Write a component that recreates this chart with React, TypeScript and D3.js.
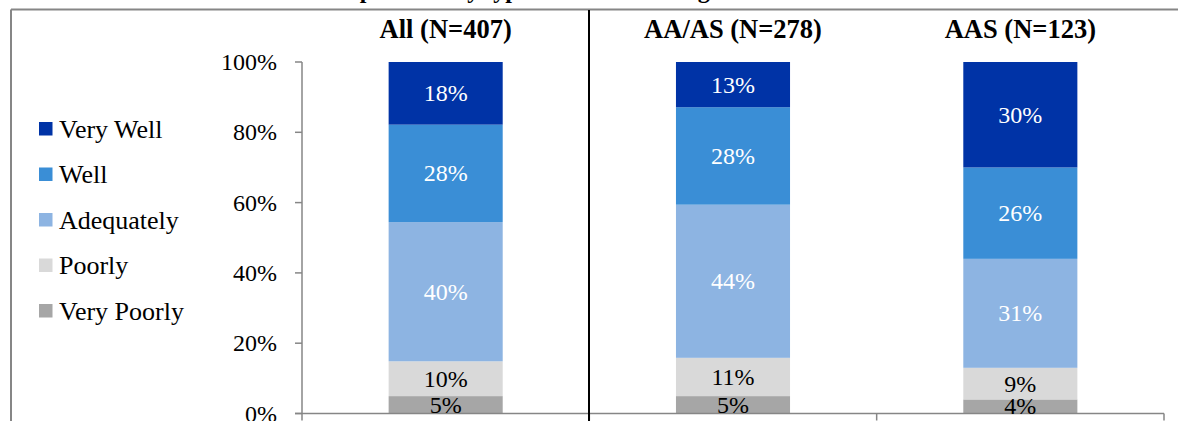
import React from 'react';
import * as d3 from 'd3';

// Respondent groups (column headers)
const categories = ['All (N=407)', 'AA/AS (N=278)', 'AAS (N=123)'];

// Rating levels, bottom of the stack first
const levels = ['Very Poorly', 'Poorly', 'Adequately', 'Well', 'Very Well'];

// Percent of respondents per level, one value per group
const veryPoorly = [5, 5, 4];
const poorly = [10, 11, 9];
const adequately = [40, 44, 31];
const well = [28, 28, 26];
const veryWell = [18, 13, 30];

const yTicks = [0, 0.2, 0.4, 0.6, 0.8, 1];

const levelColors = ['#A6A6A6', '#D9D9D9', '#8DB4E2', '#3A8ED6', '#0033A6'];
const labelColors = ['#000', '#000', '#fff', '#fff', '#fff'];

const W = 1178;
const H = 421;
const FONT = "'Liberation Serif', 'Times New Roman', serif";

export default function App() {
  const series = [veryPoorly, poorly, adequately, well, veryWell];
  const rows = categories.map((c, i) => {
    const r: Record<string, any> = { category: c };
    levels.forEach((l, k) => (r[l] = series[k][i]));
    return r;
  });

  // 100% stacked layout
  const stacked = d3
    .stack<any>()
    .keys(levels)
    .offset(d3.stackOffsetExpand)(rows);

  const plotL = 302;
  const plotR = 1164;
  const x = d3
    .scaleBand<string>()
    .domain(categories)
    .range([plotL, plotR])
    .paddingInner(0.603)
    .paddingOuter(0.3015);
  const xBounds = d3.scaleBand<string>().domain(categories).range([plotL, plotR]).padding(0);
  const y = d3.scaleLinear().domain([0, 1]).range([413.5, 62]);
  const pct = d3.format('.0%');

  const axisColor = '#868686';
  const y0 = y(0);

  const boundaryXs = [...categories.map((c) => xBounds(c)!), plotR];

  const legendItems = levels.slice().reverse();

  const txt = { fontFamily: FONT, fontWeight: 400 } as React.CSSProperties;
  const bold = { fontFamily: FONT, fontWeight: 700 } as React.CSSProperties;

  return (
    <div style={{ position: 'fixed', left: 0, top: 0, width: W, height: H, background: '#fff' }}>
      <svg width={W} height={H} style={{ display: 'block' }}>
        <rect x={0} y={0} width={W} height={H} fill="#fff" />

        {/* title, mostly above the frame */}
        <text x={818} y={-2} textAnchor="end" fontSize={24} style={bold} fill="#000">
          Preparation by type of associate's degree earned
        </text>

        {/* chart frame */}
        <line x1={11} y1={9.5} x2={W} y2={9.5} stroke={axisColor} strokeWidth={2} />
        <line x1={11} y1={9.5} x2={11} y2={H} stroke={axisColor} strokeWidth={2} />

        {/* y axis */}
        <line x1={plotL} y1={y(1)} x2={plotL} y2={y0} stroke={axisColor} strokeWidth={1.5} />
        {yTicks.map((t) => (
          <g key={t}>
            <line x1={plotL - 7} x2={plotL} y1={y(t)} y2={y(t)} stroke={axisColor} strokeWidth={1.5} />
            <text x={277} y={y(t)} textAnchor="end" dominantBaseline="central" fontSize={24} style={txt} fill="#000">
              {pct(t)}
            </text>
          </g>
        ))}

        {/* bars */}
        {stacked.map((s, k) =>
          s.map((d, i) => {
            const cat = categories[i];
            const bx = x(cat)!;
            const top = y(d[1]);
            const bot = y(d[0]);
            return (
              <rect
                key={`${k}-${i}`}
                x={bx}
                y={top}
                width={x.bandwidth()}
                height={bot - top}
                fill={levelColors[k]}
              />
            );
          })
        )}

        {/* x axis */}
        <line x1={plotL - 7} y1={y0} x2={plotR} y2={y0} stroke={axisColor} strokeWidth={1.5} />
        {boundaryXs.map((bx, i) => (
          <line key={i} x1={bx} x2={bx} y1={y0} y2={y0 + 7} stroke={axisColor} strokeWidth={1.5} />
        ))}

        {/* value labels */}
        {stacked.map((s, k) =>
          s.map((d, i) => {
            const cat = categories[i];
            const cx = x(cat)! + x.bandwidth() / 2;
            const cy = (y(d[0]) + y(d[1])) / 2;
            return (
              <text
                key={`l-${k}-${i}`}
                x={cx}
                y={cy}
                textAnchor="middle"
                dominantBaseline="central"
                fontSize={24}
                style={txt}
                fill={labelColors[k]}
              >
                {series[k][i]}%
              </text>
            );
          })
        )}

        {/* group separator */}
        <line x1={589} y1={10} x2={589} y2={H} stroke="#000" strokeWidth={2} />

        {/* column headers */}
        {categories.map((c) => (
          <text
            key={c}
            x={x(c)! + x.bandwidth() / 2}
            y={38}
            textAnchor="middle"
            fontSize={26.5}
            style={bold}
            fill="#000"
          >
            {c}
          </text>
        ))}

        {/* legend */}
        {legendItems.map((l, j) => {
          const k = levels.indexOf(l);
          const cy = 129 + j * 45.5;
          return (
            <g key={l}>
              <rect x={39} y={cy - 7} width={13.5} height={13.5} fill={levelColors[k]} />
              <text x={59} y={cy} dominantBaseline="central" fontSize={26} style={txt} fill="#000">
                {l}
              </text>
            </g>
          );
        })}
      </svg>
    </div>
  );
}
